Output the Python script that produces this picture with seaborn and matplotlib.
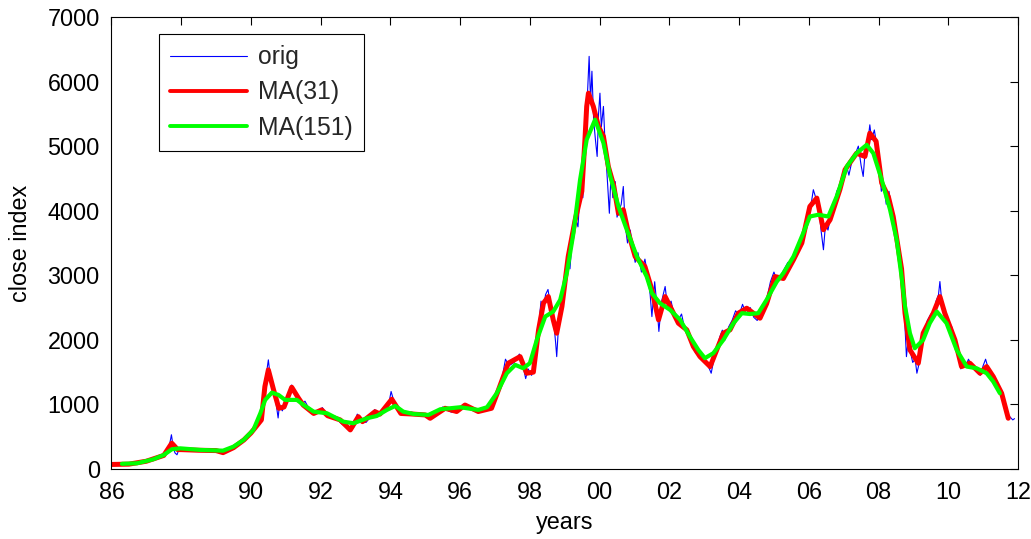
import numpy as np
import pandas as pd
import matplotlib
matplotlib.use("Agg")
import matplotlib.pyplot as plt
import seaborn as sns

# Years are counted from 1900 (86 = 1986, 112 = 2012); tick labels show two digits.

# Daily close index (main features, including the visible spikes and dips)
orig_years = [
    86.0, 86.3, 86.6, 86.9, 87.2, 87.5, 87.65, 87.72, 87.75, 87.82, 87.88, 87.95,
    88.1, 88.4, 88.7, 89.0, 89.2, 89.4, 89.6, 89.75, 89.9, 90.05, 90.2, 90.3,
    90.38, 90.45, 90.5, 90.55, 90.62, 90.7, 90.78, 90.82, 90.9, 91.0, 91.1, 91.17,
    91.25, 91.35, 91.45, 91.55, 91.65, 91.8, 91.95, 92.05, 92.15, 92.3, 92.45, 92.6,
    92.75, 92.85, 92.95, 93.05, 93.15, 93.3, 93.45, 93.55, 93.65, 93.8, 93.95, 94.02,
    94.1, 94.2, 94.3, 94.45, 94.6, 94.8, 95.0, 95.15, 95.3, 95.5, 95.6, 95.75,
    95.9, 96.05, 96.15, 96.3, 96.5, 96.7, 96.85, 97.0, 97.1, 97.2, 97.3, 97.4,
    97.55, 97.7, 97.8, 97.88, 97.95, 98.05, 98.15, 98.25, 98.32, 98.38, 98.45, 98.52,
    98.6, 98.68, 98.74, 98.77, 98.82, 98.9, 99.0, 99.1, 99.15, 99.22, 99.3, 99.38,
    99.45, 99.52, 99.58, 99.62, 99.66, 99.7, 99.74, 99.78, 99.83, 99.88, 99.93, 99.97,
    100.01, 100.05, 100.11, 100.16, 100.22, 100.28, 100.33, 100.38, 100.45, 100.5, 100.56, 100.62,
    100.68, 100.73, 100.8, 100.88, 100.95, 101.02, 101.1, 101.2, 101.3, 101.38, 101.45, 101.5,
    101.58, 101.65, 101.7, 101.78, 101.88, 101.95, 102.05, 102.15, 102.25, 102.35, 102.45, 102.55,
    102.65, 102.75, 102.85, 102.95, 103.05, 103.15, 103.2, 103.28, 103.35, 103.45, 103.52, 103.6,
    103.7, 103.8, 103.9, 104.0, 104.1, 104.2, 104.32, 104.42, 104.52, 104.6, 104.7, 104.8,
    104.9, 105.0, 105.1, 105.2, 105.3, 105.4, 105.5, 105.6, 105.7, 105.8, 105.9, 106.0,
    106.08, 106.13, 106.2, 106.28, 106.35, 106.42, 106.48, 106.55, 106.62, 106.7, 106.8, 106.9,
    107.0, 107.08, 107.15, 107.25, 107.35, 107.42, 107.5, 107.56, 107.62, 107.7, 107.75, 107.8,
    107.88, 107.95, 108.02, 108.08, 108.15, 108.22, 108.3, 108.38, 108.45, 108.52, 108.58, 108.65,
    108.7, 108.75, 108.8, 108.85, 108.92, 108.98, 109.05, 109.1, 109.17, 109.25, 109.32, 109.4,
    109.5, 109.58, 109.65, 109.72, 109.76, 109.82, 109.9, 110.0, 110.1, 110.2, 110.3, 110.36,
    110.42, 110.5, 110.58, 110.65, 110.75, 110.85, 110.92, 111.0, 111.07, 111.15, 111.25, 111.35,
    111.45, 111.55, 111.62, 111.7, 111.78, 111.85, 111.9,
]
orig_close = [
    90, 70, 80, 110, 150, 220, 330, 530, 420, 250, 220, 330,
    300, 290, 300, 280, 250, 300, 360, 430, 500, 560, 700, 800,
    1300, 1500, 1690, 1450, 1350, 1100, 790, 1000, 900, 1050, 1200, 1300,
    1200, 1100, 1000, 1050, 950, 850, 900, 950, 860, 800, 780, 700,
    640, 580, 650, 850, 760, 720, 820, 920, 840, 880, 1000, 1200,
    1050, 950, 870, 830, 880, 850, 830, 780, 850, 960, 920, 880,
    900, 960, 1000, 930, 880, 920, 960, 1050, 1250, 1400, 1700, 1600,
    1650, 1780, 1600, 1400, 1550, 1450, 1700, 2200, 2600, 2450, 2700, 2780,
    2500, 2300, 1950, 1740, 2200, 2500, 2900, 3300, 3100, 3600, 3900, 3750,
    4400, 4200, 5300, 5500, 5900, 6390, 5700, 6160, 5400, 5100, 4840, 5500,
    5820, 5300, 5615, 5000, 4500, 3960, 4600, 4200, 4450, 3900, 4000, 4100,
    4375, 3800, 3500, 3700, 3400, 3200, 3350, 3050, 3250, 3000, 2700, 2360,
    2900, 2500, 2130, 2600, 2826, 2500, 2600, 2350, 2300, 2400, 2150, 2100,
    1950, 1800, 1750, 1700, 1650, 1550, 1483, 1700, 1850, 2050, 2150, 2000,
    2200, 2300, 2450, 2380, 2550, 2400, 2500, 2350, 2300, 2400, 2450, 2650,
    2900, 3050, 2900, 3000, 3100, 3200, 3150, 3300, 3450, 3600, 3750, 4000,
    4150, 4325, 4200, 4100, 3700, 3395, 3800, 3700, 3900, 4000, 4300, 4400,
    4600, 4700, 4550, 4800, 4900, 5000, 4700, 4530, 4950, 5100, 5330, 5100,
    5250, 5000, 4700, 4300, 4400, 4100, 4300, 3950, 3700, 3500, 3300, 3100,
    2700, 2300, 1740, 2000, 1800, 1650, 1700, 1483, 1650, 2000, 2150, 2300,
    2400, 2350, 2600, 2700, 2903, 2550, 2450, 2300, 2200, 2000, 1800, 1550,
    1650, 1600, 1700, 1620, 1550, 1500, 1450, 1600, 1700, 1550, 1450, 1400,
    1250, 1150, 1000, 850, 800, 760, 780,
]

# 31-day moving average
ma31_years = [
    86.0, 86.5, 87.0, 87.5, 87.73, 87.9, 88.0, 88.5, 89.0, 89.2, 89.5, 89.8,
    90.0, 90.3, 90.4, 90.5, 90.65, 90.8, 90.95, 91.17, 91.36, 91.5, 91.8, 92.03,
    92.2, 92.56, 92.85, 93.08, 93.2, 93.56, 93.7, 94.04, 94.3, 94.6, 95.0, 95.14,
    95.57, 95.9, 96.14, 96.52, 96.9, 97.1, 97.38, 97.72, 97.91, 98.1, 98.25, 98.39,
    98.53, 98.67, 98.77, 98.92, 99.1, 99.3, 99.49, 99.58, 99.63, 99.68, 99.82, 99.97,
    100.11, 100.25, 100.4, 100.54, 100.68, 100.83, 101.02, 101.3, 101.5, 101.69, 101.88, 102.07,
    102.26, 102.5, 102.69, 102.88, 103.17, 103.36, 103.55, 103.74, 103.98, 104.22, 104.41, 104.6,
    104.79, 105.03, 105.27, 105.56, 105.8, 106.03, 106.23, 106.42, 106.61, 106.89, 107.04, 107.37,
    107.61, 107.75, 107.93, 108.09, 108.28, 108.42, 108.66, 108.76, 108.9, 109.14, 109.28, 109.57,
    109.76, 109.9, 110.19, 110.38, 110.62, 110.91, 111.1, 111.29, 111.53, 111.72,
]
ma31_close = [
    70, 75, 120, 210, 400, 300, 300, 290, 285, 253, 330, 450,
    557, 760, 1276, 1535, 1225, 940, 960, 1266, 1100, 990, 860, 915,
    825, 760, 605, 810, 733, 888, 850, 1080, 860, 852, 837, 785,
    940, 890, 990, 890, 940, 1225, 1638, 1740, 1483, 1500, 2155, 2568,
    2670, 2310, 2103, 2516, 3290, 3860, 4300, 5100, 5615, 5820, 5615, 5300,
    5150, 4685, 4400, 3960, 4015, 3650, 3290, 3135, 2775, 2310, 2670, 2465,
    2258, 2155, 1896, 1740, 1586, 1845, 2103, 2155, 2413, 2490, 2413, 2335,
    2560, 2980, 2950, 3240, 3500, 4065, 4195, 3705, 3860, 4325, 4635, 4890,
    4840, 5200, 5075, 4430, 4220, 3910, 3100, 2413, 1845, 1638, 2103, 2413,
    2670, 2413, 2000, 1586, 1638, 1483, 1586, 1430, 1173, 786,
]

# 151-day moving average
ma151_years = [
    86.3, 86.73, 87.2, 87.5, 87.73, 87.97, 88.55, 89.2, 89.5, 89.79, 90.07, 90.27,
    90.41, 90.6, 90.79, 90.98, 91.32, 91.51, 91.8, 92.18, 92.65, 92.94, 93.33, 93.61,
    93.9, 94.14, 94.37, 94.66, 95.09, 95.43, 96.0, 96.52, 96.77, 97.05, 97.34, 97.58,
    97.81, 98.0, 98.2, 98.44, 98.67, 98.87, 99.06, 99.25, 99.44, 99.63, 99.87, 100.11,
    100.3, 100.54, 100.78, 101.07, 101.35, 101.5, 101.73, 102.02, 102.31, 102.59, 102.83, 103.02,
    103.26, 103.55, 103.84, 104.08, 104.31, 104.55, 104.79, 105.08, 105.27, 105.56, 105.84, 106.03,
    106.27, 106.56, 106.8, 107.09, 107.37, 107.66, 107.85, 108.09, 108.33, 108.52, 108.66, 108.76,
    108.9, 109.04, 109.28, 109.47, 109.67, 109.95, 110.24, 110.53, 110.81, 111.1, 111.29, 111.48,
]
ma151_close = [
    80, 88, 150, 217, 305, 320, 295, 284, 346, 450, 605, 863,
    1070, 1183, 1147, 1070, 1070, 992, 888, 863, 733, 708, 786, 821,
    915, 977, 888, 852, 837, 925, 956, 915, 956, 1173, 1483, 1612,
    1560, 1638, 2000, 2360, 2438, 2620, 3033, 3653, 4480, 5100, 5410, 5050,
    4550, 4065, 3705, 3290, 2980, 2723, 2568, 2465, 2310, 2050, 1845, 1716,
    1793, 2000, 2258, 2413, 2400, 2413, 2620, 2900, 3033, 3290, 3653, 3910,
    3937, 3910, 4220, 4685, 4890, 5020, 4890, 4480, 4015, 3550, 2980, 2516,
    2103, 1870, 2000, 2258, 2438, 2258, 1845, 1586, 1560, 1483, 1353, 1173,
]

x_ticks = list(range(86, 113, 2))
y_ticks = list(range(0, 7001, 1000))

orig_df = pd.DataFrame({"year": orig_years, "close": orig_close})
ma31_df = pd.DataFrame({"year": ma31_years, "close": ma31_close})
ma151_df = pd.DataFrame({"year": ma151_years, "close": ma151_close})

sns.set_theme(style="white")
plt.rcParams["font.family"] = ["Liberation Sans", "DejaVu Sans"]

FS = 16.8
fig = plt.figure(figsize=(10.31, 5.39), dpi=100)
ax = fig.add_axes([0.1081, 0.1299, 0.8793, 0.8386])

sns.lineplot(data=orig_df, x="year", y="close", ax=ax, color=(0, 0, 1),
             linewidth=0.8, label="orig", estimator=None)
sns.lineplot(data=ma31_df, x="year", y="close", ax=ax, color=(1, 0, 0),
             linewidth=3.6, label="MA(31)", estimator=None)
sns.lineplot(data=ma151_df, x="year", y="close", ax=ax, color=(0, 1, 0),
             linewidth=3.0, label="MA(151)", estimator=None)

ax.set_xlim(86, 112)
ax.set_ylim(0, 7000)
ax.set_xticks(x_ticks)
ax.set_xticklabels([f"{t % 100:02d}" for t in x_ticks])
ax.set_yticks(y_ticks)
ax.set_yticklabels([str(t) for t in y_ticks])

for side in ["left", "right", "top", "bottom"]:
    ax.spines[side].set_visible(True)
    ax.spines[side].set_color("black")
    ax.spines[side].set_linewidth(0.8)

ax.tick_params(axis="both", which="major", direction="in", length=6, width=0.8,
               color="black", top=True, right=True, labelsize=FS, labelcolor="black")
ax.tick_params(axis="y", pad=8.4)
ax.tick_params(axis="x", pad=9)
ax.grid(False)

ax.set_xlabel("years", fontsize=FS, color="black")
ax.set_ylabel("close index", fontsize=FS, color="black")
ax.xaxis.set_label_coords(0.5, -0.092)
ax.yaxis.set_label_coords(-0.088, 0.5)

leg = ax.legend(loc="upper left", bbox_to_anchor=(0.0527, 0.962), borderaxespad=0,
                fontsize=17.8, frameon=True, fancybox=False, framealpha=1,
                edgecolor="black", handlelength=3.1, handletextpad=0.45,
                labelspacing=0.45, borderpad=0.45)
leg.get_frame().set_linewidth(0.8)
for line in leg.get_lines():
    line.set_linewidth(min(line.get_linewidth(), 2.8))

fig.savefig("out.png", dpi=100, facecolor="white")
